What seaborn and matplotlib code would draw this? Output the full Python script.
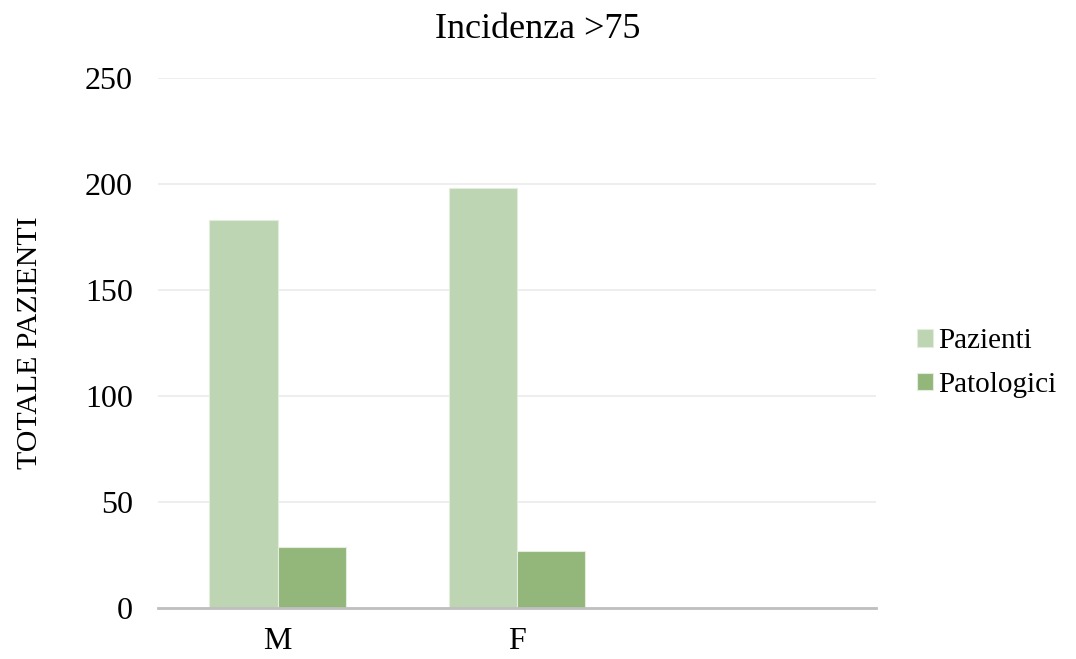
import matplotlib
matplotlib.use("Agg")
import matplotlib.pyplot as plt
import seaborn as sns
import pandas as pd

# Data
categories = ["M", "F"]
axis_order = ["M", "F", ""]
pazienti = [183, 198]
patologici = [29, 27]
series_names = ["Pazienti", "Patologici"]
colors = ["#bdd5b3", "#93b77a"]

df = pd.DataFrame({
    "sesso": categories * 2,
    "serie": [series_names[0]] * len(categories) + [series_names[1]] * len(categories),
    "valore": pazienti + patologici,
})

sns.set_theme(style="white")
plt.rcParams["font.family"] = ["Liberation Serif", "DejaVu Serif"]
plt.rcParams["text.color"] = "black"
plt.rcParams["axes.labelcolor"] = "black"

fig = plt.figure(figsize=(10.76, 6.59), dpi=100)
ax = fig.add_axes([0.1468, 0.0774, 0.6673, 0.8042])

sns.barplot(data=df, x="sesso", y="valore", hue="serie", order=axis_order,
            hue_order=series_names, palette=colors, width=0.57, saturation=1,
            edgecolor="#e3eddd", linewidth=0.8, ax=ax, legend=True)

ax.set_ylim(0, 250)
ax.set_xlim(-0.5, 2.5)
ax.set_yticks([0, 50, 100, 150, 200, 250])
ax.yaxis.grid(True, color="#ebebeb", linewidth=1.2)
ax.set_axisbelow(True)
for s in ["top", "right", "left"]:
    ax.spines[s].set_visible(False)
ax.spines["bottom"].set_color("#bfbfbf")
ax.spines["bottom"].set_linewidth(2)
ax.tick_params(axis="both", length=0, labelsize=23, colors="black")
ax.tick_params(axis="y", pad=18)
ax.tick_params(axis="x", pad=14)

ax.set_xlabel("")
ax.set_ylabel("TOTALE PAZIENTI", fontsize=21.5, labelpad=30, color="black")
# title centred on the whole figure rather than the plotting area
ax.set_title("Incidenza >75", fontsize=26, pad=29, color="black", x=0.529)

handles, labels = ax.get_legend_handles_labels()
leg = ax.legend(handles, labels, loc="center left", bbox_to_anchor=(1.02, 0.462),
                frameon=False, fontsize=21, handlelength=0.55, handleheight=0.55,
                handletextpad=0.2, labelspacing=0.6)
for t in leg.get_texts():
    t.set_color("black")

fig.savefig("out.png", dpi=100)
